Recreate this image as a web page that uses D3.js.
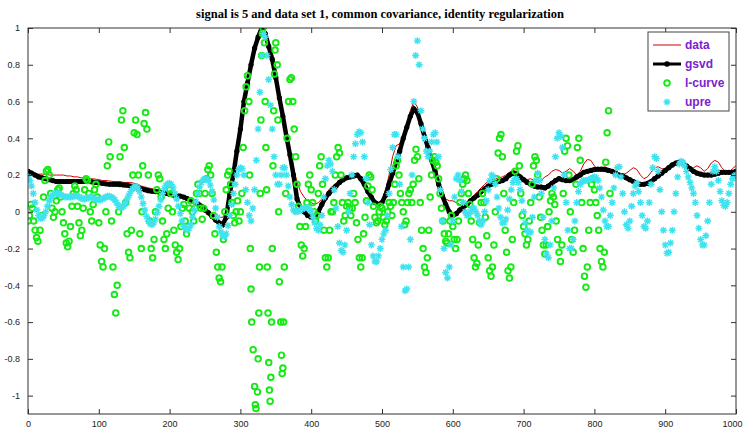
<!DOCTYPE html>
<html>
<head>
<meta charset="utf-8">
<script src="https://cdn.jsdelivr.net/npm/d3@7"></script>
<style>
  body { margin: 0; background: #fff; }
</style>
</head>
<body>
<div id="chart-area"></div>
<script>
// sample positions: data / gsvd every 5 units, upre every 2.5 units
var xs = d3.range(0, 1001, 5);
var xsUpre = d3.range(0, 1000.1, 2.5);

var xTicks = [0, 100, 200, 300, 400, 500, 600, 700, 800, 900, 1000];
var yTicks = [-1, -0.8, -0.6, -0.4, -0.2, 0, 0.2, 0.4, 0.6, 0.8, 1];
var yTickLabels = ["-1", "-0.8", "-0.6", "-0.4", "-0.2", "0", "0.2", "0.4", "0.6", "0.8", "1"];

var seriesNames = ["data", "gsvd", "l-curve", "upre"];

var dataVals = [
  0.22,0.215,0.21,0.205,0.205,0.205,0.2,0.2,0.2,0.2,0.2,0.195,0.195,0.19,0.19,0.185,0.185,0.18,0.18,0.178,
  0.175,0.17,0.17,0.168,0.165,0.165,0.165,0.16,0.16,0.16,0.155,0.15,0.14,0.135,0.13,0.125,0.12,0.115,0.11,0.105,
  0.1,0.095,0.095,0.09,0.085,0.08,0.07,0.06,0.05,0.035,0.02,0.005,-0.01,-0.02,-0.03,-0.03,0.0,0.1,0.2,0.33,
  0.45,0.56,0.68,0.78,0.87,0.94,0.99,0.99,0.92,0.84,0.74,0.64,0.53,0.42,0.33,0.24,0.16,0.11,0.08,0.06,
  0.05,0.04,0.05,0.07,0.09,0.12,0.14,0.155,0.17,0.18,0.19,0.2,0.21,0.2,0.19,0.17,0.13,0.09,0.06,0.05,
  0.06,0.12,0.2,0.3,0.36,0.37,0.42,0.48,0.55,0.6,0.57,0.5,0.43,0.36,0.29,0.23,0.16,0.11,0.07,0.06,
  0.06,0.05,0.04,0.04,0.05,0.07,0.09,0.11,0.13,0.15,0.165,0.175,0.18,0.185,0.19,0.2,0.215,0.225,0.22,0.2,
  0.185,0.175,0.18,0.17,0.16,0.17,0.19,0.2,0.22,0.23,0.225,0.21,0.22,0.235,0.22,0.2,0.22,0.26,0.285,0.28,
  0.25,0.23,0.24,0.245,0.235,0.225,0.215,0.2,0.2,0.21,0.225,0.24,0.23,0.2,0.18,0.19,0.215,0.24,0.245,0.235,
  0.23,0.245,0.26,0.275,0.28,0.275,0.255,0.235,0.24,0.25,0.24,0.22,0.235,0.265,0.28,0.27,0.24,0.22,0.215,0.235,
  0.25
];

var gsvdVals = [
  0.22,0.21,0.20,0.19,0.185,0.18,0.175,0.17,0.165,0.165,0.165,0.165,0.165,0.165,0.165,0.165,0.165,0.165,0.163,0.16,
  0.158,0.155,0.152,0.15,0.15,0.15,0.148,0.146,0.145,0.14,0.135,0.13,0.125,0.12,0.115,0.112,0.11,0.108,0.105,0.1,
  0.095,0.092,0.09,0.085,0.08,0.072,0.065,0.055,0.045,0.03,0.01,-0.005,-0.025,-0.045,-0.06,-0.07,-0.03,0.1,0.2,0.33,
  0.45,0.6,0.7,0.8,0.89,0.95,1.0,0.97,0.9,0.83,0.73,0.62,0.52,0.41,0.31,0.2,0.07,0.02,0.0,-0.02,
  -0.03,-0.025,0.0,0.04,0.075,0.1,0.12,0.14,0.16,0.175,0.185,0.19,0.195,0.2,0.18,0.15,0.11,0.08,0.05,0.04,
  0.05,0.09,0.15,0.21,0.27,0.33,0.4,0.46,0.52,0.56,0.54,0.48,0.41,0.35,0.28,0.22,0.15,0.09,0.04,0.0,
  -0.02,-0.01,0.01,0.025,0.04,0.06,0.075,0.09,0.11,0.125,0.14,0.15,0.16,0.165,0.17,0.18,0.2,0.21,0.205,0.19,
  0.175,0.16,0.15,0.14,0.135,0.135,0.13,0.14,0.155,0.17,0.18,0.175,0.17,0.17,0.175,0.19,0.2,0.215,0.22,0.225,
  0.23,0.232,0.232,0.23,0.225,0.22,0.21,0.2,0.195,0.185,0.175,0.165,0.155,0.15,0.15,0.155,0.165,0.18,0.195,0.21,
  0.225,0.24,0.255,0.265,0.27,0.265,0.25,0.235,0.22,0.21,0.205,0.2,0.2,0.2,0.205,0.21,0.215,0.215,0.215,0.215,
  0.22
];

var upreVals = [
  // 0 - 97.5
  0.19,0.17,0.14,0.1,0.05,0.01,-0.02,-0.035,-0.035,-0.02,0.0,0.03,0.06,0.08,0.09,0.1,0.1,0.1,0.095,0.09,
  0.085,0.08,0.08,0.08,0.08,0.083,0.085,0.087,0.085,0.08,0.075,0.07,0.07,0.072,0.075,0.08,0.08,0.075,0.07,0.065,
  // 100 - 197.5
  0.065,0.066,0.07,0.075,0.08,0.085,0.085,0.08,0.075,0.065,0.05,0.035,0.025,0.022,0.03,0.048,0.07,0.09,0.11,0.125,
  0.135,0.137,0.13,0.11,0.08,0.045,0.01,-0.025,-0.05,-0.065,-0.07,-0.06,-0.04,-0.005,0.03,0.065,0.1,0.125,0.145,0.153,
  // 200 - 297.5
  0.155,0.148,0.13,0.1,0.07,0.03,-0.01,-0.05,-0.08,-0.095,-0.1,-0.09,-0.07,-0.03,0.01,0.055,0.1,0.135,0.16,0.175,
  0.18,0.178,0.17,0.145,0.11,0.065,0.02,-0.03,-0.08,-0.11,-0.13,-0.135,-0.12,-0.075,-0.02,0.04,0.1,0.15,0.2,0.23,
  // 300 - 397.5
  0.24,0.235,0.2,0.12,0.05,-0.02,-0.05,0.02,0.12,0.28,0.45,0.65,0.85,0.97,0.95,0.85,0.72,0.58,0.45,0.3,
  0.2,0.15,0.15,0.2,0.24,0.24,0.2,0.14,0.08,0.04,0.01,0.0,0.0,0.005,0.01,0.015,0.02,0.025,0.025,0.015,
  // 400 - 497.5
  0.0,-0.03,-0.06,-0.09,-0.1,-0.07,-0.02,0.08,0.18,0.25,0.28,0.26,0.22,0.12,0.02,-0.08,-0.17,-0.21,-0.22,-0.18,
  -0.1,0.0,0.1,0.2,0.3,0.37,0.42,0.435,0.43,0.38,0.3,0.18,0.05,-0.07,-0.18,-0.24,-0.27,-0.27,-0.24,-0.2,
  // 500 - 597.5
  -0.15,-0.12,-0.1,-0.02,0.1,0.23,0.35,0.42,0.42,0.3,0.15,-0.08,-0.3,-0.43,-0.42,-0.3,-0.15,0.2,0.6,0.85,
  0.93,0.8,0.55,0.45,0.4,0.33,0.3,0.33,0.38,0.42,0.43,0.38,0.3,0.12,-0.05,-0.2,-0.33,-0.36,-0.3,-0.18,
  // 600 - 697.5
  -0.05,0.08,0.18,0.2,0.17,0.11,0.05,0.0,-0.02,-0.015,0.0,0.02,0.02,0.0,-0.02,-0.05,-0.07,-0.05,0.0,0.06,
  0.12,0.17,0.2,0.19,0.15,0.08,0.02,-0.03,-0.06,-0.06,-0.04,0.01,0.07,0.12,0.16,0.18,0.18,0.16,0.12,0.06,
  // 700 - 797.5
  0.0,-0.06,-0.1,-0.115,-0.11,-0.03,0.08,0.17,0.21,0.17,0.1,-0.03,-0.15,-0.23,-0.25,-0.18,-0.05,0.13,0.3,0.4,
  0.43,0.41,0.35,0.2,0.05,-0.1,-0.2,-0.2,-0.15,-0.05,0.05,0.11,0.15,0.165,0.17,0.17,0.17,0.175,0.18,0.185,
  // 800 - 897.5
  0.19,0.185,0.17,0.13,0.08,0.01,-0.05,-0.08,-0.08,-0.02,0.05,0.13,0.2,0.24,0.245,0.19,0.1,0.0,-0.07,-0.09,
  -0.05,0.03,0.1,0.14,0.155,0.11,0.05,-0.02,-0.08,-0.09,-0.05,0.05,0.15,0.24,0.3,0.29,0.22,0.12,0.0,-0.1,
  // 900 - 1000
  -0.18,-0.225,-0.22,-0.17,-0.1,0.0,0.1,0.19,0.26,0.275,0.27,0.25,0.22,0.19,0.16,0.13,0.1,0.05,-0.02,-0.09,
  -0.15,-0.18,-0.18,-0.13,-0.05,0.05,0.15,0.22,0.245,0.22,0.17,0.11,0.06,0.035,0.03,0.05,0.1,0.15,0.18,0.195,
  0.2
];

// l-curve markers, [x, value]
var lcurvePts = [
  [0,-0.05],[2,-0.02],[4,0.04],[6,0.02],[8,-0.05],[10,-0.1],[12,-0.14],[14,-0.16],[17,-0.1],[20,-0.02],
  [22,0.08],[24,0.17],[26,0.22],[28,0.23],[30,0.2],[32,0.1],[34,0.02],[36,-0.03],[38,0.0],[40,0.06],
  [42,0.12],[44,0.13],[46,0.08],[48,0.0],[50,-0.06],[52,-0.12],[54,-0.17],[56,-0.19],[58,-0.16],[60,-0.08],
  [62,0.03],[64,0.1],[66,0.14],[68,0.12],[70,0.03],[72,-0.06],[74,-0.13],[76,-0.1],[78,0.02],[80,0.12],
  [82,0.18],[84,0.17],[86,0.1],[88,0.0],[90,-0.05],[92,0.04],[94,0.12],[96,0.15],[98,0.08],[100,-0.06],
  [102,-0.18],[104,-0.27],[106,-0.3],[108,-0.2],[110,0.0],
  [112,0.25],[114,0.38],[116,0.3],[118,-0.05],[120,-0.3],[122,-0.45],[124,-0.55],[126,-0.4],[128,0.0],[130,0.3],
  [132,0.5],[134,0.55],[136,0.35],[138,0.05],[140,-0.12],[142,-0.22],[144,-0.25],[146,-0.1],[148,0.2],[150,0.43],
  [152,0.5],[154,0.42],[156,0.2],[158,-0.12],[160,-0.2],[161,0.0],[162,0.25],[164,0.48],[166,0.54],[168,0.45],
  [170,0.2],[172,-0.05],[174,-0.2],[176,-0.25],[178,-0.15],
  [180,0.0],[182,0.12],[184,0.2],[186,0.18],[188,0.08],[190,-0.05],[192,-0.15],[194,-0.2],[196,-0.12],[198,0.02],
  [200,0.12],[202,0.1],[204,0.0],[206,-0.1],[208,-0.18],[210,-0.22],[212,-0.26],[214,-0.2],[216,-0.08],[218,0.02],
  [220,0.04],[222,-0.05],[224,-0.12],[226,-0.08],[228,0.02],[230,0.06],[232,0.0],[234,-0.05],[236,0.02],[238,0.1],
  [240,0.15],[242,0.1],[244,0.02],[246,-0.04],[248,0.02],[250,0.1],[252,0.18],[254,0.23],[256,0.25],[258,0.2],
  [260,0.1],[262,-0.02],[264,-0.12],[266,-0.22],[268,-0.3],[270,-0.36],[272,-0.38],[274,-0.3],[276,-0.15],[278,0.0],
  [280,0.12],[282,0.2],[284,0.22],[286,0.15],[288,0.05],[290,-0.02],[292,-0.06],[294,0.0],[296,0.06],[298,-0.05],
  [300,0.0],[302,0.1],[304,0.35],[306,0.55],[308,0.68],[310,0.74],[312,0.6],[313,0.2],[314,-0.2],[315,-0.42],
  [316,-0.6],[318,-0.75],[320,-0.95],[321,-1.05],[322,-1.07],[324,-0.98],[325,-0.8],[326,-0.55],[327,-0.3],[328,0.1],
  [329,0.5],[330,0.85],[331,0.97],[332,1.0],[334,0.92],[335,0.6],[336,0.35],[337,0.12],[338,-0.3],[339,-0.55],
  [340,-0.82],[341,-0.97],[342,-1.03],[343,-0.9],[344,-0.6],[345,-0.2],[346,0.25],[347,0.55],[348,0.75],[349,0.88],
  [350,0.92],[352,0.8],[353,0.5],[354,0.0],[355,-0.38],[357,-0.6],[358,-0.78],[359,-0.88],[360,-0.85],[361,-0.6],
  [362,-0.3],[364,0.1],[366,0.4],[368,0.6],[370,0.72],[372,0.73],[374,0.6],[376,0.45],[378,0.3],
  [380,0.15],[382,0.03],[384,-0.08],[386,-0.18],[388,-0.24],[390,-0.2],[392,-0.08],[394,0.05],[396,0.15],[398,0.2],
  [400,0.12],[402,0.05],[404,0.0],[406,-0.05],[408,-0.02],[410,0.1],[412,0.25],[414,0.3],[416,0.15],[418,-0.1],
  [420,-0.25],[422,-0.3],[424,-0.25],[426,-0.1],[428,0.0],[430,0.0],[432,0.05],[434,0.2],[436,0.3],[438,0.35],
  [440,0.32],[442,0.2],[444,0.05],[446,-0.05],[448,-0.02],[450,0.03],[452,0.05],[454,0.02],[456,-0.02],[458,0.02],
  [460,0.1],[462,0.05],[464,-0.06],[466,-0.15],[468,-0.25],[470,-0.3],[472,-0.25],[474,-0.12],[476,-0.03],[478,0.06],
  [480,0.14],[482,0.2],[484,0.19],[486,0.12],[488,0.03],[490,-0.03],[492,-0.06],[494,-0.05],[496,0.0],[498,0.03],
  [500,0.02],[502,-0.03],[504,-0.07],[506,-0.05],[508,0.0],[510,0.05],[512,0.03],[514,-0.02],[516,0.05],[518,0.15],
  [520,0.25],[522,0.28],[524,0.2],[526,0.1],[528,0.05],[530,0.0],[532,-0.07],[534,-0.05],[536,0.05],[538,0.1],
  [540,0.12],[542,0.05],[544,0.15],[546,0.28],[548,0.34],[550,0.3],[552,0.18],[554,0.05],[556,-0.1],[558,-0.2],
  [560,-0.3],[562,-0.33],[564,-0.25],[566,-0.1],[568,0.08],[570,0.2],[572,0.28],[574,0.3],[576,0.27],[578,0.25],
  [580,0.18],[582,0.1],[584,0.02],[586,-0.05],[588,-0.12],[590,-0.16],[592,-0.17],[594,-0.12],[596,-0.05],[598,-0.02],
  [600,-0.08],[602,-0.15],[604,-0.2],[606,-0.15],[608,-0.05],[610,0.05],[612,0.1],[614,0.15],[616,0.18],[618,0.2],
  [620,0.17],[622,0.1],[624,0.04],[626,-0.05],[628,-0.15],[630,-0.25],[632,-0.3],[634,-0.28],[636,-0.18],[638,-0.06],
  [640,0.05],[642,0.1],[644,0.05],[646,-0.03],[648,-0.13],[650,-0.25],[652,-0.32],[654,-0.35],[656,-0.3],[658,-0.18],
  [660,0.0],[662,0.18],[664,0.32],[666,0.4],[668,0.42],[670,0.3],[672,0.1],[674,-0.1],[676,-0.22],[678,-0.32],
  [680,-0.36],[682,-0.3],[684,-0.15],[686,0.05],[688,0.22],[690,0.33],[692,0.36],[694,0.25],[696,0.1],[698,-0.02],
  [700,-0.08],[702,-0.12],[704,-0.18],[706,-0.15],[708,-0.05],[710,0.05],[712,0.15],[714,0.25],[716,0.3],[718,0.28],
  [720,0.2],[722,0.08],[724,-0.03],[726,-0.1],[728,-0.18],[730,-0.23],[732,-0.18],[734,-0.08],[736,0.0],[738,0.06],
  [740,0.1],[742,0.08],[744,0.04],[746,-0.05],[748,-0.15],[750,-0.22],[752,-0.27],[754,-0.18],[756,0.1],[758,0.33],
  [760,0.4],[762,0.36],[764,0.2],[766,0.0],[768,-0.15],[770,-0.22],[772,-0.1],[774,0.15],[776,0.35],[778,0.4],
  [780,0.28],[782,0.05],[784,-0.2],[786,-0.35],[788,-0.41],[790,-0.3],[792,-0.1],[794,0.05],[796,0.15],[798,0.18],
  [800,0.12],[802,0.05],[804,-0.02],[806,-0.1],[808,-0.2],[810,-0.27],[812,-0.3],[814,-0.22],[816,0.27],[818,0.43],
  [820,0.55],[822,0.1]
];

var margin = { left: 28, right: 7, top: 28, bottom: 16 };
var width = 743 - margin.left - margin.right,
    height = 430 - margin.top - margin.bottom;

var svg = d3.select("#chart-area")
    .append("svg")
        .attr("width", 743)
        .attr("height", 430);

var g = svg.append("g")
    .attr("transform", "translate(" + margin.left + "," + margin.top + ")");

// Title
svg.append("text")
    .attr("x", 380)
    .attr("y", 18)
    .attr("text-anchor", "middle")
    .attr("font-family", "Liberation Serif, serif")
    .attr("font-weight", "bold")
    .attr("font-size", "12.5px")
    .text("signal is 5 and data set 1, common covariance, identity regularization");

var x = d3.scaleLinear().domain([0, 1000]).range([0, width]);
var y = d3.scaleLinear().domain([-1.1, 1]).range([height, 0]);

// clip so marks stay inside the box
g.append("clipPath").attr("id", "clip")
  .append("rect").attr("width", width).attr("height", height);

var plot = g.append("g").attr("clip-path", "url(#clip)");

var line = d3.line()
    .x(function(d, i){ return x(xs[i]); })
    .y(function(d){ return y(d); });

// data (red)
plot.append("path")
    .datum(dataVals)
    .attr("d", line)
    .attr("fill", "none")
    .attr("stroke", "#d40000")
    .attr("stroke-width", 1);

// gsvd (black line with dots)
plot.append("path")
    .datum(gsvdVals)
    .attr("d", line)
    .attr("fill", "none")
    .attr("stroke", "#000")
    .attr("stroke-width", 4.5);

plot.selectAll(".gdot")
    .data(gsvdVals)
    .enter().append("circle")
        .attr("class", "gdot")
        .attr("cx", function(d, i){ return x(xs[i]); })
        .attr("cy", function(d){ return y(d); })
        .attr("r", 2.6)
        .attr("fill", "#000");

// l-curve (green circles)
plot.selectAll(".lc")
    .data(lcurvePts)
    .enter().append("circle")
        .attr("class", "lc")
        .attr("cx", function(d){ return x(d[0]); })
        .attr("cy", function(d){ return y(d[1]); })
        .attr("r", 2.8)
        .attr("fill", "none")
        .attr("stroke", "#14ea14")
        .attr("stroke-width", 1.9);

// upre (cyan asterisks)
var star = "M-3.5,0H3.5M0,-3.5V3.5M-2.5,-2.5L2.5,2.5M-2.5,2.5L2.5,-2.5";
plot.selectAll(".up")
    .data(upreVals)
    .enter().append("path")
        .attr("class", "up")
        .attr("transform", function(d, i){ return "translate(" + x(xsUpre[i]) + "," + y(d) + ")"; })
        .attr("d", star)
        .attr("fill", "none")
        .attr("stroke", "#3fe3ef")
        .attr("stroke-width", 1.4);

// Axes (MATLAB style box, ticks inside on all sides)
var tickLen = 5;
var xAxisG = g.append("g")
    .attr("transform", "translate(0," + height + ")")
    .call(d3.axisBottom(x).tickValues(xTicks).tickSizeInner(-tickLen).tickSizeOuter(0).tickPadding(7)
        .tickFormat(d3.format("d")))
    .call(function(a){ a.select(".domain").remove(); });
g.append("g")
    .call(d3.axisTop(x).tickValues(xTicks).tickSizeInner(-tickLen).tickSizeOuter(0).tickFormat(""))
    .call(function(a){ a.select(".domain").remove(); });
g.append("g")
    .call(d3.axisLeft(y).tickValues(yTicks).tickSizeInner(-tickLen).tickSizeOuter(0).tickPadding(8)
        .tickFormat(function(d, i){ return yTickLabels[i]; }))
    .call(function(a){ a.select(".domain").remove(); });
g.append("g")
    .attr("transform", "translate(" + width + ",0)")
    .call(d3.axisRight(y).tickValues(yTicks).tickSizeInner(-tickLen).tickSizeOuter(0).tickFormat(""))
    .call(function(a){ a.select(".domain").remove(); });

g.selectAll(".tick line").attr("stroke", "#333");
g.selectAll(".tick text")
    .attr("font-family", "Liberation Sans, Arial, sans-serif")
    .attr("font-size", "9px")
    .attr("fill", "#222");

// keep the last x label inside the window
xAxisG.selectAll(".tick text").filter(function(d){ return d === 1000; }).attr("dx", -4);

g.append("rect")
    .attr("width", width)
    .attr("height", height)
    .attr("fill", "none")
    .attr("stroke", "#333")
    .attr("stroke-width", 1);

// Legend
var lg = svg.append("g").attr("transform", "translate(648,32)");
lg.append("rect")
    .attr("width", 81).attr("height", 79)
    .attr("fill", "#fff").attr("stroke", "#444").attr("stroke-width", 1);

var rowY = [13, 32, 51, 70];
var lx0 = 5, lx1 = 33, lxm = 19;

lg.append("line").attr("x1", lx0).attr("x2", lx1).attr("y1", rowY[0]).attr("y2", rowY[0])
    .attr("stroke", "#d40000").attr("stroke-width", 1);
lg.append("line").attr("x1", lx0).attr("x2", lx1).attr("y1", rowY[1]).attr("y2", rowY[1])
    .attr("stroke", "#000").attr("stroke-width", 3);
lg.append("circle").attr("cx", lxm).attr("cy", rowY[1]).attr("r", 2.8).attr("fill", "#000");
lg.append("circle").attr("cx", lxm).attr("cy", rowY[2]).attr("r", 2.8)
    .attr("fill", "none").attr("stroke", "#14ea14").attr("stroke-width", 1.9);
lg.append("path").attr("d", star).attr("transform", "translate(" + lxm + "," + rowY[3] + ")")
    .attr("fill", "none").attr("stroke", "#3fe3ef").attr("stroke-width", 1.4);

lg.selectAll(".lt")
    .data(seriesNames)
    .enter().append("text")
        .attr("class", "lt")
        .attr("x", 37)
        .attr("y", function(d, i){ return rowY[i] + 4; })
        .attr("font-family", "Liberation Sans, Arial, sans-serif")
        .attr("font-weight", "bold")
        .attr("font-size", "12px")
        .attr("fill", "#7b22cf")
        .text(function(d){ return d; });
</script>
</body>
</html>
